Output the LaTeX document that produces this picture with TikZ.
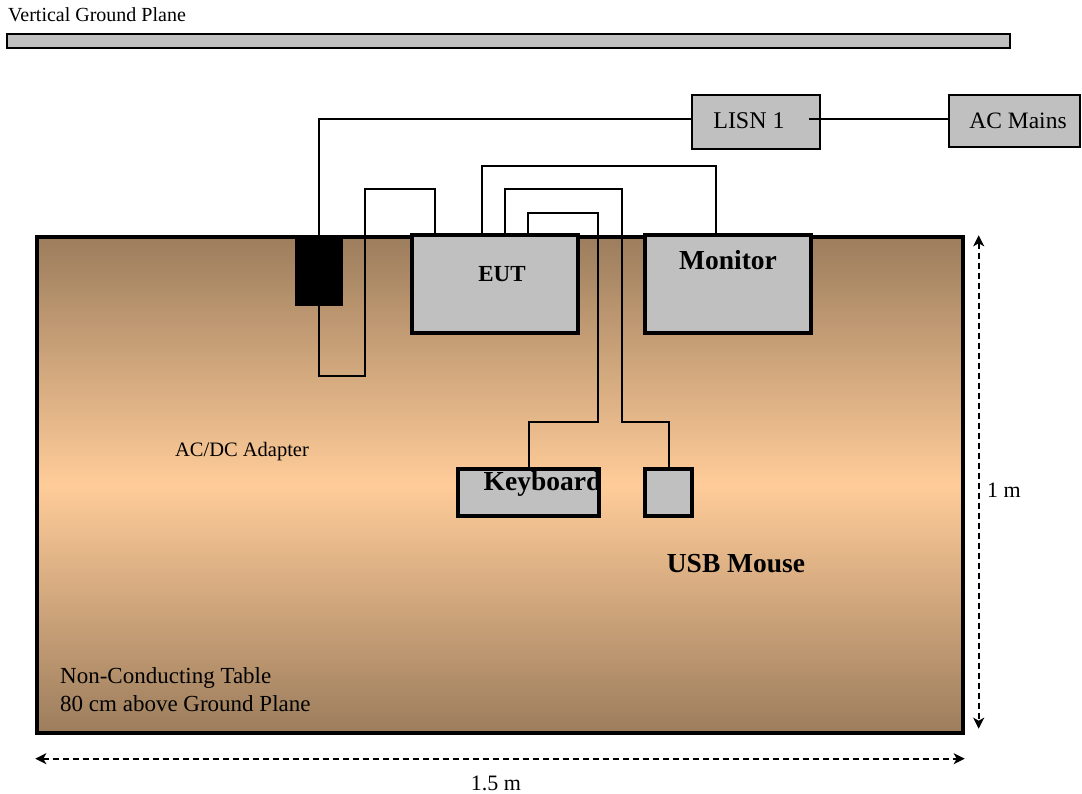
\documentclass[tikz,border=0pt]{standalone}
\usepackage{fontspec}
\setmainfont{Liberation Serif}
\usetikzlibrary{arrows.meta}
\definecolor{boxgray}{RGB}{192,192,192}
\definecolor{tabbrown}{RGB}{156,125,93}
\definecolor{tabpeach}{RGB}{255,204,153}
\tikzset{
  gbox/.style={draw=black, fill=boxgray, line width=3.4pt, inner sep=0pt},
  sbox/.style={draw=black, fill=boxgray, line width=2.4pt, inner sep=0pt},
  cable/.style={draw=black, line width=2pt},
  dim/.style={draw=black, line width=2pt, dash pattern=on 6pt off 4pt, {Stealth[length=11pt,width=11pt,inset=3pt]}-{Stealth[length=11pt,width=11pt,inset=3pt]}},
  lbl/.style={anchor=base, inner sep=0pt},
}
\begin{document}
\begin{tikzpicture}[x=1pt,y=-1pt]
\useasboundingbox (0,0) rectangle (1082,794);
% table
\node[draw=black, line width=3.4pt, top color=tabbrown, bottom color=tabbrown, middle color=tabpeach,
      minimum width=926pt, minimum height=496pt, inner sep=0pt] (table) at (500,485) {};
% vertical ground plane
\node[sbox, minimum width=1003pt, minimum height=14pt] (vgp) at (508.5,41) {};
\node[anchor=base west, inner sep=0pt, font=\fontsize{20}{24}\selectfont] (vgplbl) at (8,22) {Vertical Ground Plane};
% boxes
\node[draw=black, fill=black, minimum width=47pt, minimum height=70pt, inner sep=0pt] (adapt) at (318.5,270) {};
\node[gbox, minimum width=166pt, minimum height=98pt] (eut) at (495,284) {};
\node[gbox, minimum width=166pt, minimum height=98pt] (mon) at (728,284) {};
\node[gbox, minimum width=141pt, minimum height=47pt] (kb) at (528.5,492.5) {};
\node[gbox, minimum width=47pt, minimum height=47pt] (mouse) at (668.5,492.5) {};
\node[sbox, minimum width=128pt, minimum height=54pt] (lisn) at (756,122) {};
\node[sbox, minimum width=131pt, minimum height=52pt] (ac) at (1014.5,121) {};
% cables
\draw[cable] ([yshift=3pt]lisn.west) -| (adapt.north);
\draw[cable] ([xshift=-12pt,yshift=3pt]lisn.east) -- ([yshift=2pt]ac.west);
\draw[cable] (adapt.south) |- (365,376) |- (435,189) -- (435,0 |- eut.north);
\draw[cable] (482,0 |- eut.north) |- (716,166) -- (716,0 |- mon.north);
\draw[cable] (505,0 |- eut.north) |- (622,189) -- (622,422) -| (mouse.north);
\draw[cable] (528,0 |- eut.north) |- (598,213) -- (598,422) -| (kb.north);
% labels
\node[lbl, font=\fontsize{24}{28}\selectfont] (lisnlbl) at (749,129) {LISN 1};
\node[lbl, font=\fontsize{23.5}{28}\selectfont] (aclbl) at (1018,129) {AC Mains};
\node[lbl, font=\bfseries\fontsize{23}{28}\selectfont] (eutlbl) at (502,282) {EUT};
\node[lbl, font=\bfseries\fontsize{27.5}{32}\selectfont] (monlbl) at (728,270) {Monitor};
\node[lbl, font=\bfseries\fontsize{27.5}{32}\selectfont] (kblbl) at (542.5,490) {Keyboard};
\node[lbl, font=\bfseries\fontsize{27.5}{32}\selectfont] (mouselbl) at (736,572) {USB Mouse};
\node[lbl, font=\fontsize{20.5}{24}\selectfont] (adlbl) at (242,456) {AC/DC Adapter};
\node[anchor=base west, inner sep=0pt, font=\fontsize{23}{26}\selectfont] (tab1) at (60,683) {Non-Conducting Table};
\node[anchor=base west, inner sep=0pt, font=\fontsize{23}{26}\selectfont] (tab2) at (60,711) {80 cm above Ground Plane};
% dimensions
\draw[dim] ([xshift=14pt]table.north east) -- ([xshift=14pt,yshift=6pt]table.south east);
\draw[dim] ([yshift=-24pt]table.south west) -- ([yshift=-24pt]table.south east);
\node[lbl, font=\fontsize{22}{26}\selectfont] (dimv) at (1004,497) {1 m};
\node[lbl, font=\fontsize{22}{26}\selectfont] (dimh) at (496,790) {1.5 m};
\end{tikzpicture}
\end{document}
